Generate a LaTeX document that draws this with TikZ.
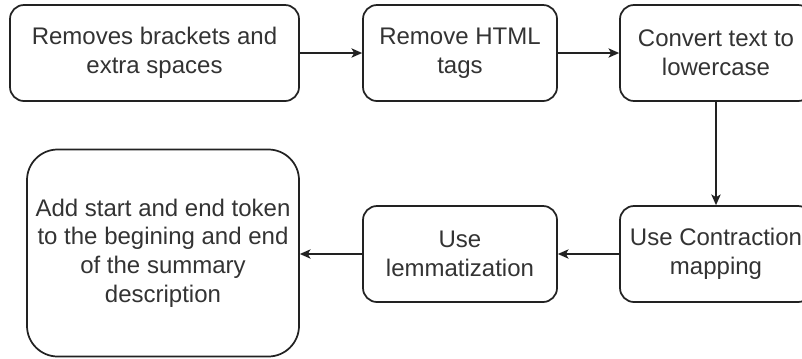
\documentclass[tikz,border=0pt]{standalone}
\usepackage{fontspec}
\setmainfont{Liberation Sans}
\usetikzlibrary{arrows.meta}
\definecolor{txt}{HTML}{333333}
\definecolor{edge}{HTML}{222222}
\tikzset{
  box/.style={draw=edge, line width=1.3pt, rounded corners=10.5pt, fill=white,
    align=center, inner sep=0pt, text=txt,
    font=\fontsize{18}{21.5}\selectfont},
  arr/.style={draw=edge, line width=1.1pt, -{Stealth[length=8pt,width=7pt,inset=2pt]}}
}
\begin{document}
\begin{tikzpicture}[x=0.75pt, y=-0.75pt]
\useasboundingbox (0,0) rectangle (802,358);
\node[box, minimum width=289*0.75pt, minimum height=96*0.75pt] (b1) at (154.5,53) {Removes brackets and\\extra spaces};
\node[box, minimum width=194*0.75pt, minimum height=96*0.75pt] (b2) at (460,53) {Remove HTML\\tags};
\node[box, minimum width=192*0.75pt, minimum height=96*0.75pt] (b3) at (716,53) {Convert text to\\lowercase};
\node[box, minimum width=192*0.75pt, minimum height=96*0.75pt] (b4) at (716,254) {Use Contraction\\mapping};
\node[box, minimum width=194*0.75pt, minimum height=96*0.75pt] (b5) at (460,254) {Use\\lemmatization};
\node[box, rounded corners=23pt, minimum width=272*0.75pt, minimum height=207*0.75pt] (b6) at (163,253) {Add start and end token\\to the begining and end\\of the summary\\description};
\draw[arr] (b1.east) -- (b2.west);
\draw[arr] (b2.east) -- (b3.west);
\draw[arr] (b3.south) -- (b4.north);
\draw[arr] (b4.west) -- (b5.east);
\draw[arr] (b5.west) -- (b5.west -| b6.east);
\end{tikzpicture}
\end{document}
